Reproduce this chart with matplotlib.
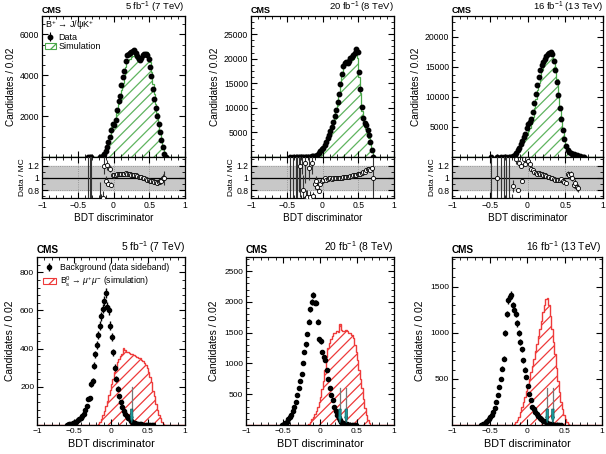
import numpy as np
import matplotlib
matplotlib.use("Agg")
import matplotlib.pyplot as plt
from matplotlib.patches import Patch
from matplotlib.ticker import AutoMinorLocator

# -------------------
# data (0.02 wide bins on [-1, 1]; each list starts at the given bin centre)
# -------------------
# top row: B+ -> J/psi K+ control sample, data vs simulation
data_7_start = -0.35
data_7 = [1, 1, 1, 0, 0, 0, 0, 0, 2, 20, 60, 150, 300, 500, 750, 1000, 1300, 1600,
          1550, 1800, 2300, 2750, 3000, 3500, 3900, 4200, 4700, 5000, 5050, 5100, 5150,
          5200, 5250, 5100, 4950, 4800, 4750, 4850, 5000, 5050, 5050, 5000, 4800, 4400,
          3950, 3350, 2850, 2400, 2000, 1600, 1200, 850, 500, 150, 20]
mc_7 = [0.2, 0.2, 0.2, 0, 0, 0, 0, 0, 4, 35, 90, 125, 315, 415, 830, 870, 1460, 1540,
        1490, 1715, 2170, 2595, 2805, 3270, 3645, 3960, 4390, 4715, 4765, 4810, 4905,
        4950, 5000, 4905, 4805, 4705, 4705, 4755, 5000, 5100, 5155, 5155, 5000, 4630,
        4160, 3565, 3065, 2580, 2175, 1720, 1275, 895, 500, 150, 0]

data_8_start = -0.45
data_8 = [2, 0, 3, 0, 4, 5, 8, 12, 15, 20, 30, 40, 55, 70, 90, 120, 160, 220, 300, 500,
          800, 1200, 1600, 1800, 2400, 3100, 3800, 4500, 5200, 6200, 7200, 8300, 9600,
          11200, 12800, 14800, 16800, 18500, 19200, 19300, 19100, 19600, 20200, 20400,
          20800, 21200, 21900, 21400, 17300, 13900, 10200, 8000, 7000, 6500, 5500, 4500,
          3000, 1500, 20]
mc_8 = [0.5, 0, 1, 0, 1.5, 2, 4, 10, 8, 25, 24, 60, 80, 60, 130, 97, 230, 245, 316, 590,
        1025, 1330, 1700, 1855, 2425, 3195, 3880, 4500, 5250, 6330, 7200, 8380, 9700,
        11200, 12930, 14800, 16800, 18320, 19010, 18920, 18730, 19220, 19610, 19810,
        20000, 20380, 20860, 20190, 16320, 12990, 9440, 7270, 6420, 5800, 4820, 3910,
        2650, 1300, 20]

data_13_start = -0.49
data_13 = [1, 0, 0, 0, 2, 0, 0, 2, 0, 3, 4, 0, 6, 10, 30, 150, 400, 750, 1100, 1500,
           2100, 2700, 3400, 3900, 4800, 5500, 5900, 6400, 7500, 9000, 10500, 12000,
           13300, 14500, 15300, 15900, 16400, 16800, 17100, 17400, 17500, 17200, 16000,
           14500, 12500, 10300, 8200, 6300, 4500, 3000, 1800, 1100, 800, 650, 550, 480,
           400, 320, 250, 150, 80, 30, 10]
mc_13 = [0.3, 0, 0, 0, 2, 0, 0, 0.5, 0, 1, 1.5, 0, 2, 20, 50, 172, 667, 577, 1375, 1200,
         1750, 2870, 2615, 3200, 3690, 4300, 4840, 5565, 6700, 8180, 9720, 11215, 12315,
         13680, 14430, 15140, 15770, 16310, 16765, 17230, 17500, 17375, 16330, 14950,
         13020, 10730, 8450, 6430, 4740, 3225, 1955, 1040, 770, 615, 550, 540, 435, 380,
         300, 0, 0, 0, 0]

# bottom row: background (data sideband) vs Bs -> mu mu simulation
bkg_7_start = -0.59
bkg_7 = [2, 3, 5, 7, 10, 14, 18, 24, 31, 38, 46, 60, 78, 100, 135, 140, 215, 230, 310,
         370, 420, 470, 520, 570, 610, 650, 690, 620, 600, 520, 460, 380, 300, 240, 190,
         150, 120, 95, 75, 60, 48, 38, 30, 22, 16, 12, 9, 7, 5, 4, 3, 2, 2, 1, 1, 1, 1,
         1, 1]
sig_7_start = -0.17
sig_7 = [5, 15, 30, 50, 75, 100, 125, 155, 185, 215, 240, 280, 300, 330, 345, 360, 370,
         405, 395, 380, 385, 375, 370, 372, 365, 360, 358, 350, 352, 340, 335, 325, 315,
         300, 280, 250, 225, 180, 150, 110, 80, 55, 35, 18, 6]

bkg_8_start = -0.51
bkg_8 = [3, 10, 30, 55, 90, 130, 170, 220, 290, 380, 490, 600, 710, 830, 1010, 1190,
         1310, 1480, 1680, 1880, 2000, 2110, 1990, 1990, 1680, 1390, 1360, 1180, 1100,
         1060, 900, 750, 600, 480, 400, 300, 220, 160, 110, 75, 48, 32, 22, 15, 10, 7, 5,
         3, 2, 1, 1]
sig_8_start = -0.15
sig_8 = [20, 50, 90, 130, 180, 230, 300, 380, 450, 580, 720, 900, 1100, 1250, 1340,
         1400, 1450, 1490, 1500, 1520, 1510, 1640, 1540, 1520, 1530, 1550, 1530, 1500,
         1490, 1470, 1420, 1300, 1180, 1060, 900, 750, 600, 430, 280, 160, 80, 30, 8]

bkg_13_start = -0.61
bkg_13 = [2, 6, 15, 28, 45, 65, 85, 110, 140, 180, 250, 330, 410, 500, 610, 720, 1000,
          1200, 1350, 1390, 1410, 1300, 1250, 1200, 1100, 1000, 900, 820, 700, 600, 520,
          420, 340, 270, 200, 175, 145, 115, 95, 78, 60, 48, 38, 30, 22, 16, 11, 8, 5, 3,
          2, 1, 1, 1]
sig_13_start = -0.19
sig_13 = [5, 15, 30, 50, 90, 140, 190, 250, 300, 370, 430, 500, 570, 640, 720, 800, 880,
          960, 1040, 1130, 1220, 1300, 1370, 1380, 1300, 1180, 1040, 900, 770, 620, 480,
          360, 250, 170, 110, 65, 35, 15, 5]

# BDT cut values (arrows) and arrow line heights
cuts_7 = [0.28]
cuts_8 = [0.27, 0.355]
cuts_13 = [0.27, 0.345]
cut_top = [200, 600, 405]

lumi_labels = ['5 fb$^{-1}$ (7 TeV)', '20 fb$^{-1}$ (8 TeV)', '16 fb$^{-1}$ (13 TeV)']
xtick_vals = [-1, -0.5, 0, 0.5, 1]
xtick_labels = ['\u22121', '\u22120.5', '0', '0.5', '1']
yticks_top = [[2000, 4000, 6000], [5000, 10000, 15000, 20000, 25000],
              [5000, 10000, 15000, 20000]]
yticks_bot = [[200, 400, 600, 800], [500, 1000, 1500, 2000, 2500], [500, 1000, 1500]]
ymax_top = [6900, 28700, 23500]
ymax_bot = [880, 2730, 1820]

# -------------------
# style
# -------------------
plt.rcParams['font.family'] = ['Liberation Sans', 'DejaVu Sans']
plt.rcParams['mathtext.fontset'] = 'custom'
plt.rcParams['mathtext.rm'] = 'Liberation Sans'
plt.rcParams['mathtext.it'] = 'Liberation Sans:italic'
plt.rcParams['mathtext.bf'] = 'Liberation Sans:bold'
plt.rcParams['hatch.linewidth'] = 0.9
plt.rcParams['xtick.direction'] = 'in'
plt.rcParams['ytick.direction'] = 'in'
plt.rcParams['xtick.top'] = True
plt.rcParams['ytick.right'] = True
plt.rcParams['xtick.major.size'] = 4
plt.rcParams['ytick.major.size'] = 4
plt.rcParams['xtick.minor.size'] = 2
plt.rcParams['ytick.minor.size'] = 2
plt.rcParams['axes.linewidth'] = 0.9

green_line = '#4aa84a'
green_hatch = '#5fb45f'
red = '#ee3a3a'
teal = '#1d9c9c'

edges = np.linspace(-1, 1, 101)
centers = 0.5 * (edges[:-1] + edges[1:])

W, H = 606, 454
fig = plt.figure(figsize=(W / 100, H / 100), dpi=100)


def place(start, values):
    h = np.zeros(100)
    i = int(round((start + 0.99) / 0.02))
    h[i:i + len(values)] = values
    return h


def px_axes(left, top, right, bottom):
    return fig.add_axes([left / W, 1 - bottom / H, (right - left) / W, (bottom - top) / H])


def style_x(ax, labels=True, size=6.2):
    ax.set_xlim(-1, 1)
    ax.set_xticks(xtick_vals)
    ax.set_xticklabels(xtick_labels if labels else [])
    ax.xaxis.set_minor_locator(AutoMinorLocator(5))
    ax.tick_params(labelsize=size, pad=2)


def top_panel(k, left, right, start, data, mc):
    d = place(start, data)
    m = place(start, mc)
    ax = px_axes(left, 16, right, 157)
    ax.stairs(m, edges, fill=True, facecolor='white', edgecolor=green_hatch,
              hatch='///', linewidth=0)
    ax.stairs(m, edges, color=green_line, linewidth=0.9)
    ok = d > 0
    eb = ax.errorbar(centers[ok], d[ok], yerr=np.sqrt(d[ok]), fmt='o', color='black',
                     ms=3.2, elinewidth=0.8, capsize=0, zorder=4)
    ax.set_ylim(0, ymax_top[k])
    ax.set_yticks(yticks_top[k])
    ax.yaxis.set_minor_locator(AutoMinorLocator(4))
    style_x(ax, labels=False)
    ax.set_ylabel('Candidates / 0.02', fontsize=7.2, labelpad=3)
    ax.text(0, 1.004, 'CMS', transform=ax.transAxes, fontsize=6.5, fontweight='bold',
            va='bottom', ha='left')
    ax.text(1, 1.004, lumi_labels[k], transform=ax.transAxes, fontsize=6.8,
            va='bottom', ha='right')
    if k == 0:
        sim = Patch(facecolor='white', edgecolor=green_line, hatch='///', linewidth=0.8)
        ax.legend([eb, sim], ['Data', 'Simulation'],
                  title='B$^{+}$ \u2192 J/\u03c8K$^{+}$', loc='upper left',
                  frameon=False, fontsize=6.5, title_fontsize=6.5,
                  alignment='left', handlelength=1.2, handletextpad=0.3,
                  labelspacing=0.05, borderpad=0.1, borderaxespad=0.2)

    # ratio panel
    axr = px_axes(left, 157, right, 198)
    axr.axhspan(0.8, 1.2, color='#c8c8c8', zorder=0)
    for yv in (0.8, 1.2):
        axr.axhline(yv, color='#888888', lw=0.6, ls=':', zorder=1)
    for xv in (-0.5, 0, 0.5):
        axr.axvline(xv, color='#888888', lw=0.6, ls=':', zorder=1)
    axr.axhline(1, color='black', lw=0.9, zorder=2)
    ok = (d > 0) & (m > 0)
    r = d[ok] / m[ok]
    e = r * np.sqrt(1 / d[ok] + 1 / m[ok])
    axr.errorbar(centers[ok], r, yerr=e, fmt='o', ms=3.0, mfc='white', mec='black',
                 mew=0.6, ecolor='#333333', elinewidth=0.8, capsize=0, zorder=3)
    axr.set_ylim(0.67, 1.34)
    axr.set_yticks([0.8, 1, 1.2])
    axr.set_yticklabels(['0.8', '1', '1.2'])
    axr.yaxis.set_minor_locator(AutoMinorLocator(2))
    style_x(axr)
    axr.set_ylabel('Data / MC', fontsize=6, labelpad=1)
    axr.set_xlabel('BDT discriminator', fontsize=7.2, labelpad=2)


def bottom_panel(k, left, right, bstart, bkg, sstart, sig, cuts):
    b = place(bstart, bkg)
    s = place(sstart, sig)
    ax = px_axes(left, 257, right, 425)
    ax.stairs(s, edges, fill=True, facecolor='white', edgecolor=red, hatch='///',
              linewidth=0)
    ax.stairs(s, edges, color=red, linewidth=1.0)
    ok = b > 0
    eb = ax.errorbar(centers[ok], b[ok], yerr=np.sqrt(b[ok]), fmt='o', color='black',
                     ms=3.0, elinewidth=1.0, capsize=0, zorder=4)
    ymax = ymax_bot[k]
    for xc in cuts:
        ax.plot([xc, xc], [0.09 * ymax, cut_top[k]], color='#777777', lw=0.9, zorder=5)
        ax.arrow(xc, 0.095 * ymax, 0, -0.082 * ymax, width=0.032, head_width=0.044,
                 head_length=0.035 * ymax, length_includes_head=True, fc=teal,
                 ec='#0d5c5c', lw=0.5, zorder=6)
    ax.set_ylim(0, ymax)
    ax.set_yticks(yticks_bot[k])
    ax.yaxis.set_minor_locator(AutoMinorLocator(5))
    style_x(ax, size=6)
    ax.set_ylabel('Candidates / 0.02', fontsize=7.4, labelpad=4)
    ax.set_xlabel('BDT discriminator', fontsize=7.8, labelpad=3)
    ax.text(0, 1.01, 'CMS', transform=ax.transAxes, fontsize=7.2, fontweight='bold',
            va='bottom', ha='left')
    ax.text(1, 1.01, lumi_labels[k], transform=ax.transAxes, fontsize=7.4,
            va='bottom', ha='right')
    if k == 0:
        sim = Patch(facecolor='white', edgecolor=red, hatch='///', linewidth=0.8)
        ax.legend([eb, sim], ['Background (data sideband)',
                              'B$^{0}_{\\mathrm{s}}$ \u2192 $\\mu^{+}\\mu^{-}$ (simulation)'],
                  loc='upper left', frameon=False, fontsize=6.2, handlelength=1.5,
                  handletextpad=0.5, labelspacing=0.3, borderpad=0.2,
                  borderaxespad=0.5)


top_panel(0, 42, 185, data_7_start, data_7, mc_7)
top_panel(1, 251, 394, data_8_start, data_8, mc_8)
top_panel(2, 452, 603, data_13_start, data_13, mc_13)

bottom_panel(0, 37, 185, bkg_7_start, bkg_7, sig_7_start, sig_7, cuts_7)
bottom_panel(1, 246, 394, bkg_8_start, bkg_8, sig_8_start, sig_8, cuts_8)
bottom_panel(2, 452, 602, bkg_13_start, bkg_13, sig_13_start, sig_13, cuts_13)

fig.savefig('out.png', dpi=100)
